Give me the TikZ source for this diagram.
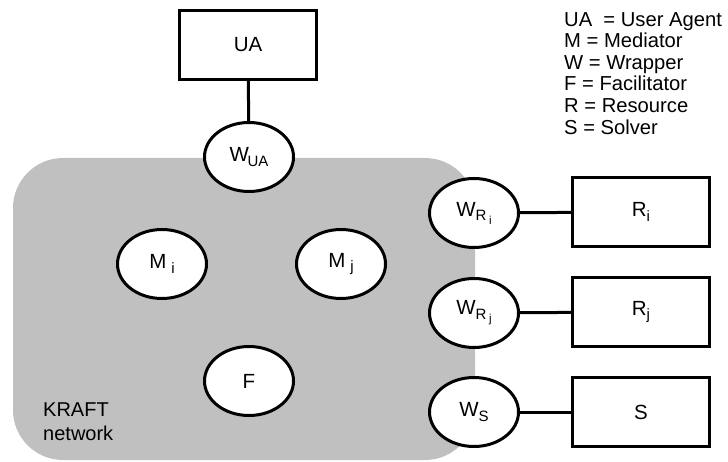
\documentclass[tikz,border=0pt]{standalone}
\usepackage{fontspec}
\setmainfont{Liberation Sans}
\usetikzlibrary{shapes.geometric}
\newcommand{\mysub}[1]{\raisebox{-4.5pt}{\fontsize{15}{15}\selectfont #1}}
\newcommand{\mysubsub}[1]{\raisebox{-3.5pt}{\fontsize{11.5}{11.5}\selectfont #1}}
\begin{document}
\begin{tikzpicture}[x=1pt,y=-1pt,
  every node/.style={font=\fontsize{20.5}{23}\selectfont},
  agentbox/.style={draw, line width=3.4pt, fill=white, rectangle, inner sep=0pt, minimum width=137pt, minimum height=69pt},
  agentell/.style={draw, line width=3pt, fill=white, ellipse, inner sep=0pt, minimum width=89pt, minimum height=69pt},
  link/.style={line width=3pt}]
\useasboundingbox (0,0) rectangle (728,462);
\fill[fill={rgb,255:red,192;green,192;blue,192}, rounded corners=50pt] (13,158) rectangle (475,460);
\node[agentbox] (ua) at (248,45) {UA};
\node[agentell] (wua) at (249,157) {W\kern-1.5pt\mysub{UA}};
\node[agentell] (mi) at (162,264) {M\kern5pt\mysub{i}};
\node[agentell] (mj) at (341,264) {M\kern5pt\mysub{j}};
\node[agentell] (f) at (249,381) {F};
\node[agentell] (wri) at (474,213) {W\mysub{R\,\mysubsub{i}}};
\node[agentell] (wrj) at (474,313) {W\mysub{R\,\mysubsub{j}}};
\node[agentell] (ws) at (474,412) {W\mysub{S}};
\node[agentbox] (ri) at (641,212) {R\mysub{i}};
\node[agentbox] (rj) at (641,312) {R\mysub{j}};
\node[agentbox] (s) at (641,412) {S};
\draw[link] (ua) -- (wua);
\draw[link] (wri) -- (ri);
\draw[link] (wrj) -- (rj);
\draw[link] (ws) -- (s);
\node[anchor=north west, align=left, inner sep=0pt, font=\fontsize{20}{24}\selectfont] (kraft) at (43,403) {KRAFT\\network};
\node[anchor=north west, align=left, inner sep=0pt, font=\fontsize{20.2}{21.6}\selectfont] (legend) at (564,12) {UA\ \ = User Agent\\M = Mediator\\W = Wrapper\\F = Facilitator\\R = Resource\\S = Solver};
\end{tikzpicture}
\end{document}
